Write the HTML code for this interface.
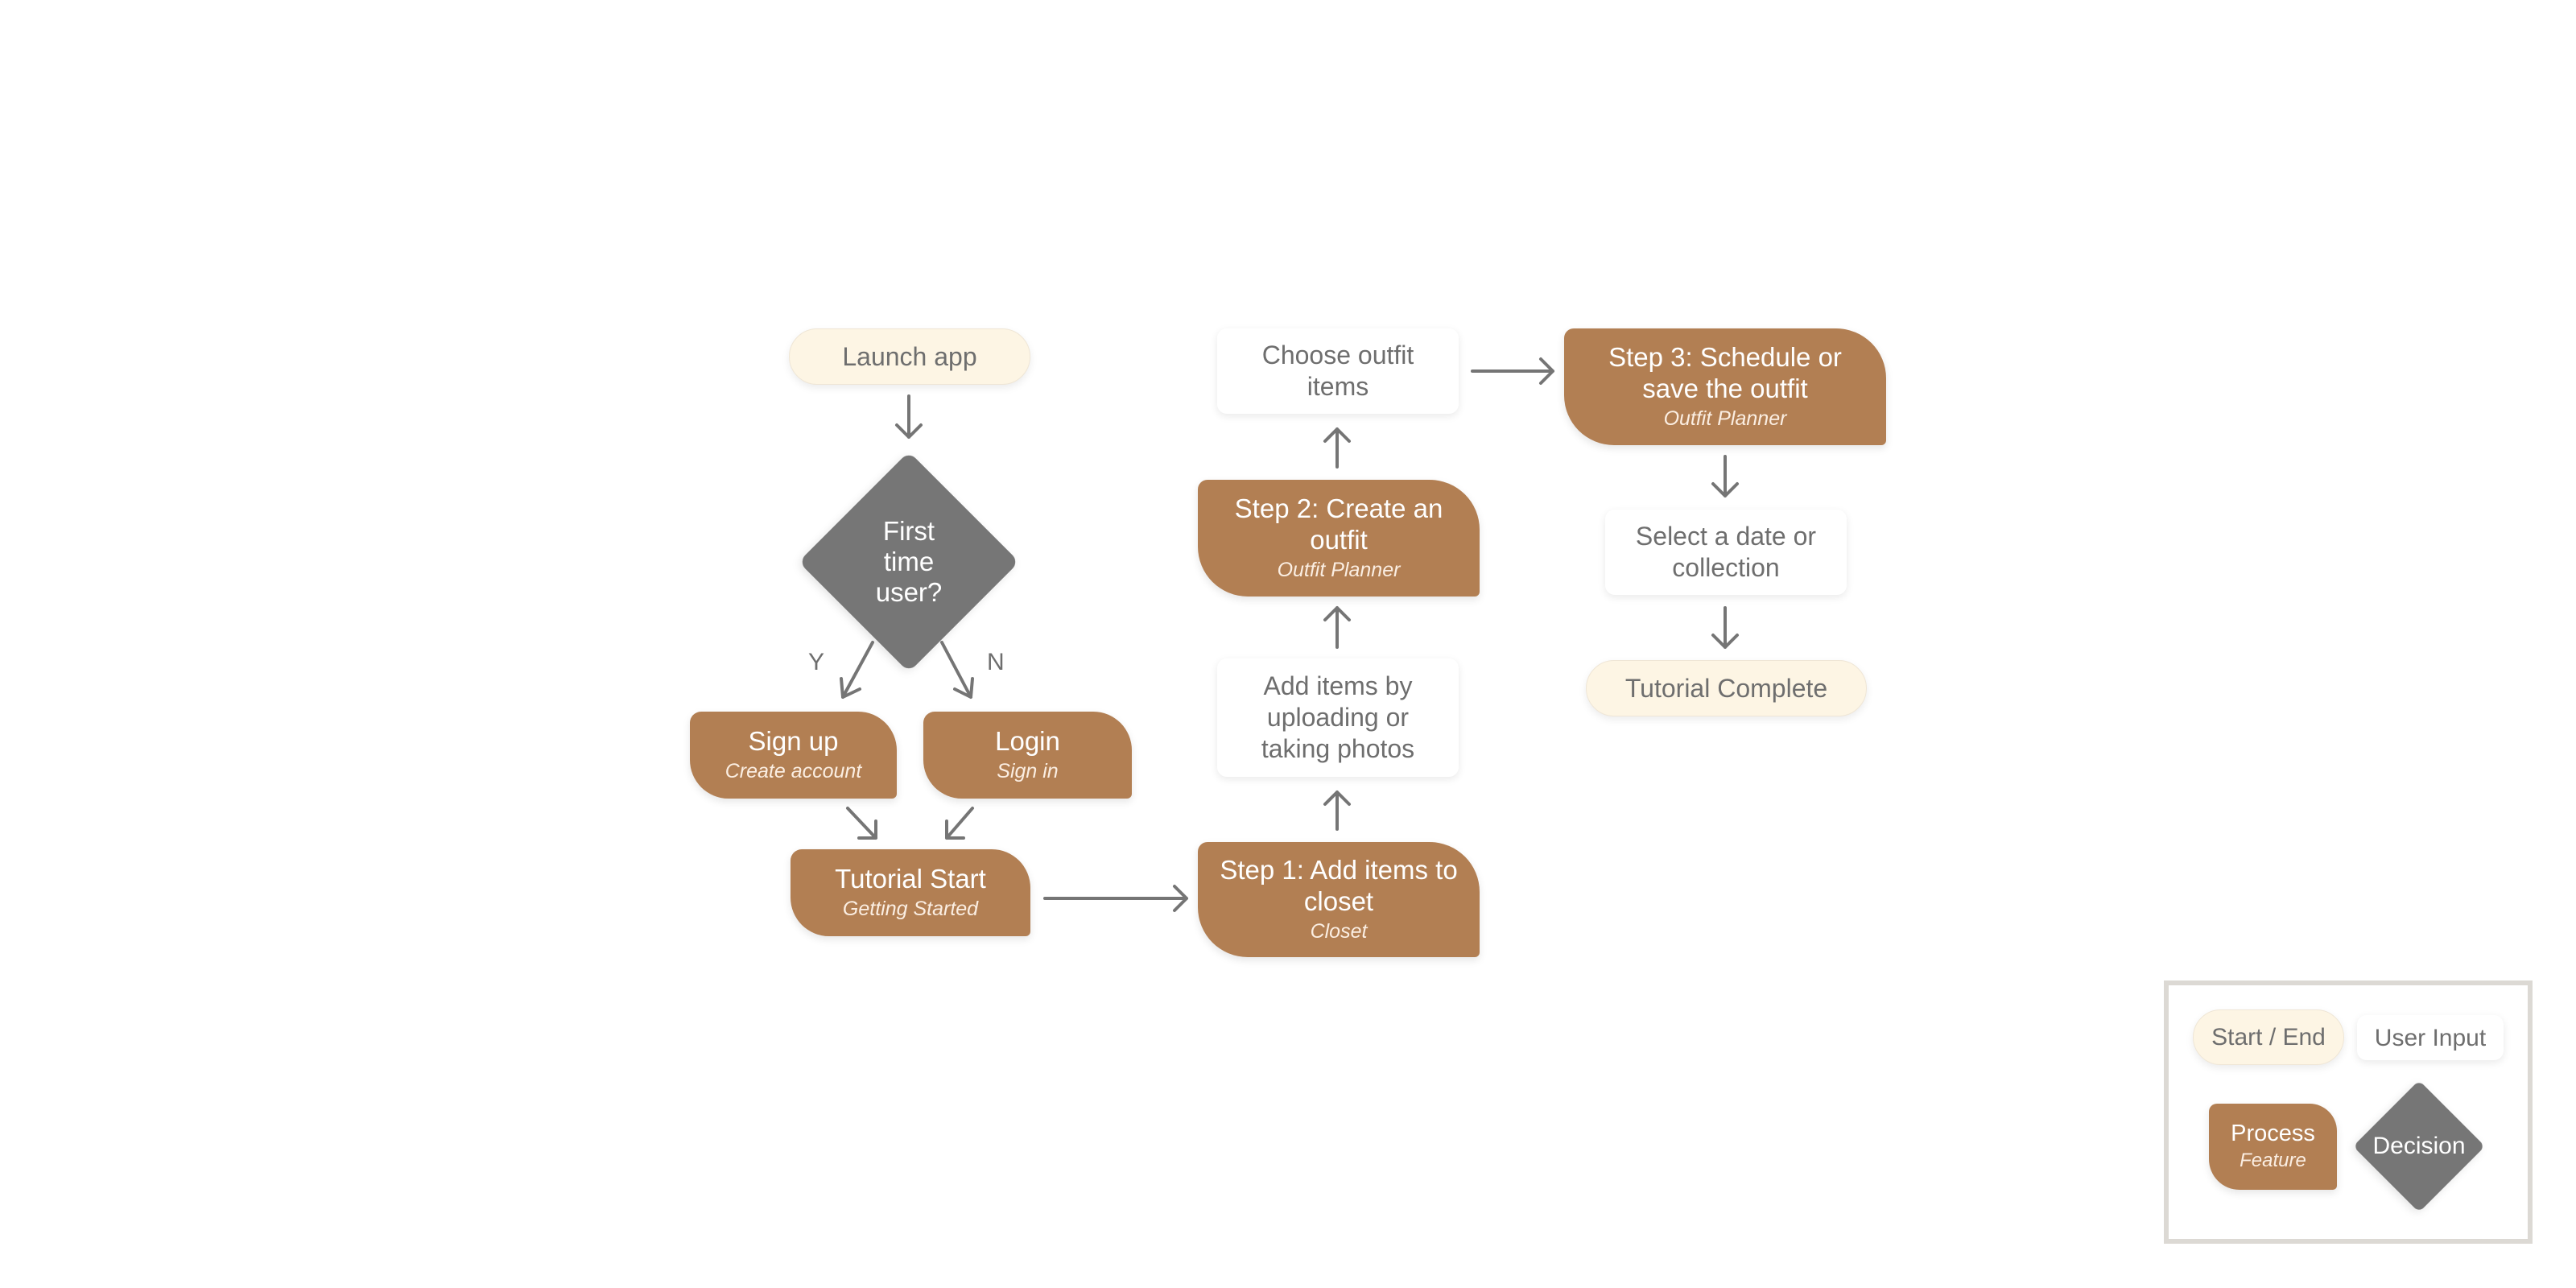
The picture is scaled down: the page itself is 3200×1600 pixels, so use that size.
<!DOCTYPE html>
<html><head><meta charset="utf-8"><style>
html,body{margin:0;padding:0;background:#fff;}
body{width:3200px;height:1600px;position:relative;overflow:hidden;font-family:"Liberation Sans",sans-serif;}
.n{position:absolute;box-sizing:border-box;display:flex;flex-direction:column;align-items:center;justify-content:center;text-align:center;}
.se{background:#fdf5e4;border-radius:40px;color:#6e6e6e;font-size:32px;box-shadow:0 4px 10px rgba(0,0,0,0.08);border:1px solid #efe6d6;}
.ui{background:#fff;border-radius:12px;color:#6e6e6e;font-size:32px;line-height:39px;box-shadow:0 3px 10px rgba(0,0,0,0.09);}
.pr{background:#b27f53;color:#fff;font-size:33px;line-height:39px;box-shadow:0 4px 10px rgba(0,0,0,0.1);}
.pr i{font-size:25px;line-height:36px;color:#fbeee2;}
.big{border-radius:12px 62px 6px 62px;}
.sm{border-radius:14px 48px 6px 48px;}
</style></head><body>
<svg width="3200" height="1600" style="position:absolute;left:0;top:0" fill="none" stroke="#757575" stroke-width="4" stroke-linecap="round" stroke-linejoin="round">
<defs><filter id="sh" x="-20%" y="-20%" width="140%" height="140%"><feDropShadow dx="0" dy="4" stdDeviation="5" flood-opacity="0.1"/></filter></defs>
<g transform="translate(1129,698) rotate(45)" filter="url(#sh)"><rect x="-97" y="-97" width="194" height="194" rx="12" fill="#767676" stroke="none"/></g>
<g transform="translate(3005,1424) rotate(45)" filter="url(#sh)"><rect x="-58" y="-58" width="116" height="116" rx="8" fill="#767676" stroke="none"/></g>
<!-- launch -> diamond -->
<path d="M1129 492 V543 M1114 528 L1129 543 L1144 528"/>
<!-- diamond -> signup/login -->
<path d="M1084 798 L1047 866 M1045 843 L1047 866 L1068 856"/>
<path d="M1170 798 L1206 866 M1186 856 L1206 866 L1208 843"/>
<!-- to tutorial -->
<path d="M1053 1004 L1088 1041 M1088 1020 L1088 1041 L1067 1041"/>
<path d="M1208 1004 L1176 1041 M1176 1020 L1176 1041 L1197 1041"/>
<!-- tutorial -> step1 -->
<path d="M1298 1116 H1474 M1459 1101 L1474 1116 L1459 1131"/>
<!-- up arrows -->
<path d="M1661 1030 V984 M1646 999 L1661 984 L1676 999"/>
<path d="M1661 804 V755 M1646 770 L1661 755 L1676 770"/>
<path d="M1661 580 V533 M1646 548 L1661 533 L1676 548"/>
<!-- choose -> step3 -->
<path d="M1829 461 H1929 M1914 446 L1929 461 L1914 476"/>
<!-- down -->
<path d="M2143 567 V616 M2128 601 L2143 616 L2158 601"/>
<path d="M2143 755 V804 M2128 789 L2143 804 L2158 789"/>
</svg>

<div class="n se" style="left:980px;top:408px;width:300px;height:70px;">Launch app</div>
<div class="n" style="left:1029px;top:598px;width:200px;height:200px;color:#fff;font-size:33px;line-height:38px;">First<br>time<br>user?</div>
<div style="position:absolute;left:1004px;top:806px;font-size:30px;color:#6e6e6e;">Y</div>
<div style="position:absolute;left:1226px;top:806px;font-size:30px;color:#6e6e6e;">N</div>

<div class="n pr sm" style="left:857px;top:884px;width:257px;height:108px;">Sign up<i>Create account</i></div>
<div class="n pr sm" style="left:1147px;top:884px;width:259px;height:108px;">Login<i>Sign in</i></div>
<div class="n pr sm" style="left:982px;top:1055px;width:298px;height:108px;">Tutorial Start<i>Getting Started</i></div>

<div class="n pr big" style="left:1488px;top:1046px;width:350px;height:143px;">Step 1: Add items to<br>closet<i>Closet</i></div>
<div class="n ui" style="left:1512px;top:818px;width:300px;height:147px;">Add items by<br>uploading or<br>taking photos</div>
<div class="n pr big" style="left:1488px;top:596px;width:350px;height:145px;">Step 2: Create an<br>outfit<i>Outfit Planner</i></div>
<div class="n ui" style="left:1512px;top:408px;width:300px;height:106px;">Choose outfit<br>items</div>

<div class="n pr big" style="left:1943px;top:408px;width:400px;height:145px;">Step 3: Schedule or<br>save the outfit<i>Outfit Planner</i></div>
<div class="n ui" style="left:1994px;top:633px;width:300px;height:106px;">Select a date or<br>collection</div>
<div class="n se" style="left:1970px;top:820px;width:349px;height:70px;">Tutorial Complete</div>

<div style="position:absolute;left:2688px;top:1218px;width:458px;height:327px;box-sizing:border-box;border:6px solid #dcd9d4;"></div>
<div class="n se" style="left:2724px;top:1254px;width:188px;height:69px;font-size:30px;">Start / End</div>
<div class="n ui" style="left:2928px;top:1261px;width:182px;height:56px;font-size:30px;">User Input</div>
<div class="n pr" style="left:2744px;top:1371px;width:159px;height:107px;border-radius:10px 34px 5px 38px;font-size:29px;line-height:34px;">Process<i style="font-size:24px;line-height:34px;">Feature</i></div>
<div class="n" style="left:2935px;top:1400px;width:140px;height:48px;color:#fff;font-size:30px;">Decision</div>
</body></html>
